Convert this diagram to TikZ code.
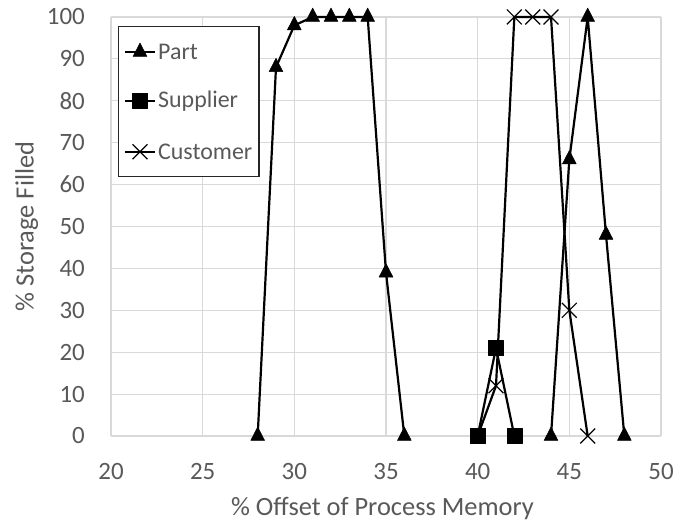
\documentclass[tikz,border=0pt]{standalone}
\usepackage{fontspec}
\setmainfont{Carlito}
\usetikzlibrary{plotmarks}
\definecolor{txtgray}{HTML}{595959}
\definecolor{gridgray}{HTML}{D9D9D9}
\begin{document}
\begin{tikzpicture}[x=1bp,y=1bp,
  lbl/.style={text=txtgray,font=\fontsize{24}{28}\selectfont,inner sep=0pt},
  ticklbl/.style={lbl,font=\fontsize{25}{29}\selectfont},
  titlelbl/.style={lbl,font=\fontsize{26.5}{31}\selectfont},
  series/.style={line width=2.2bp,black,line join=round},
  ptri/.style={mark=triangle*,mark size=8bp,mark options={solid,fill=black,line width=0.5bp,yscale=1.12}},
  psq/.style={mark=square*,mark size=7.5bp,mark options={solid,fill=black,line width=0.5bp}},
  pcross/.style={mark=x,mark size=10.5bp,mark options={solid,line width=1.2bp}},
  gridline/.style={gridgray,line width=1.1bp}]
\useasboundingbox (0,0) rectangle (689,523);
\fill[white] (0,0) rectangle (689,523);
\begin{scope}[xshift=-255.667bp,yshift=87bp,x=18.3333bp,y=4.19bp]
  \foreach \gx in {20,25,...,50} \draw[gridline] (\gx,0) -- (\gx,100);
  \foreach \gy in {10,20,...,100} \draw[gridline] (20,\gy) -- (50,\gy);
  \draw[gridline] (20,0) -- (50,0);
  \foreach \gx in {20,25,...,50} \node[ticklbl,yshift=-35.5bp] (xt\gx) at (\gx,0) {\gx};
  \foreach \gy in {0,10,...,100} \node[ticklbl,anchor=east,xshift=-26bp] (yt\gy) at (20,\gy) {\gy};
  % Part
  \draw[series,ptri] plot coordinates {(28,0) (29,88) (30,98) (31,100) (32,100) (33,100) (34,100) (35,39) (36,0)};
  \draw[series,ptri] plot coordinates {(44,0) (45,66) (46,100) (47,48) (48,0)};
  % Customer
  \draw[series,pcross] plot coordinates {(40,0) (41,12) (42,100) (43,100) (44,100) (45,30) (46,0)};
  % Supplier
  \draw[series,psq] plot coordinates {(40,0) (41,21) (42,0)};
\end{scope}
\node[titlelbl,anchor=base] (xtitle) at (382.5,7) {\% Offset of Process Memory};
\node[titlelbl,rotate=90,anchor=base] (ytitle) at (33.5,296.5) {\% Storage Filled};
% legend
\draw[black!85,line width=1.2bp,fill=white] (118.7,346.3) rectangle (259,496.3);
\draw[series,ptri,mark indices={2}] plot coordinates {(125,471) (140,471) (155,471)};
\node[lbl,anchor=west] (lpart) at (158,471) {Part};
\draw[series,psq,mark indices={2}] plot coordinates {(125,422.3) (140,422.3) (155,422.3)};
\node[lbl,anchor=west] (lsup) at (158,422.3) {Supplier};
\draw[series,pcross,mark indices={2}] plot coordinates {(125,371.3) (140,371.3) (155,371.3)};
\node[lbl,anchor=west] (lcus) at (158,371.3) {Customer};
\end{tikzpicture}
\end{document}
